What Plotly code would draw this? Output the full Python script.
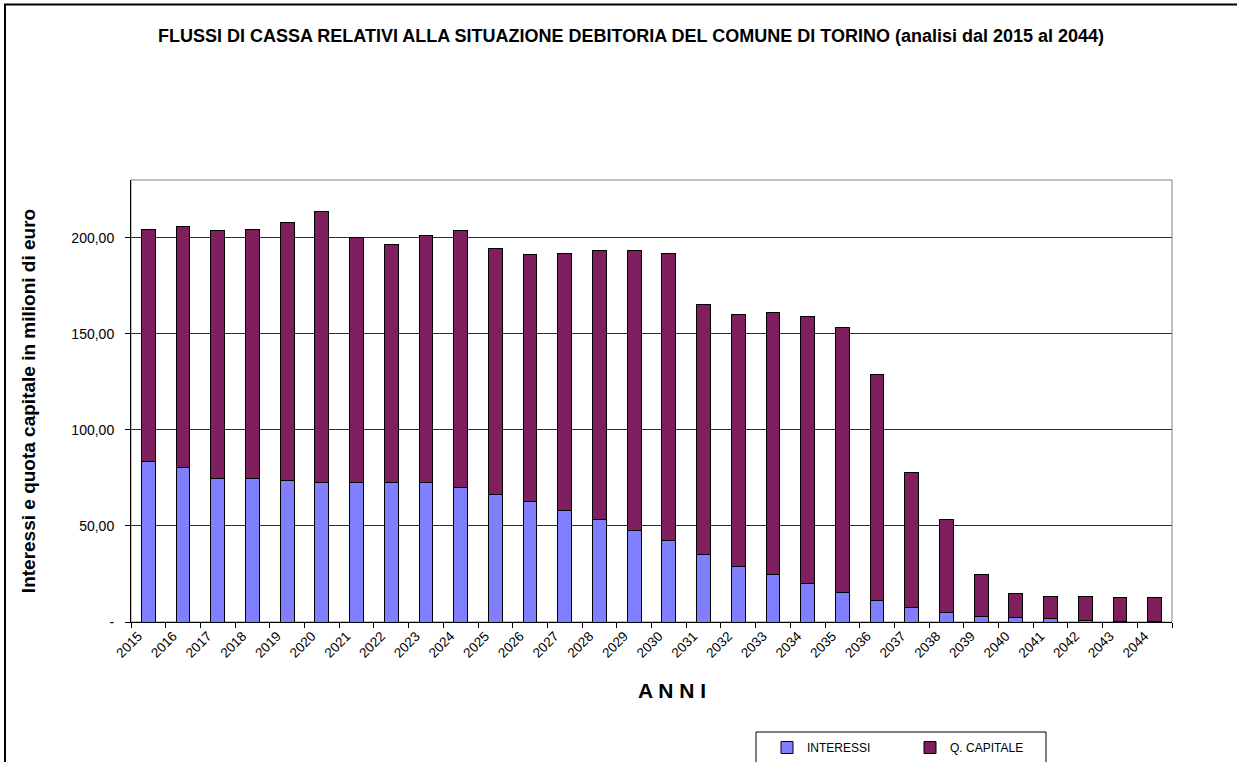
import plotly.graph_objects as go

anni = [str(y) for y in range(2015, 2045)]
interessi = [83.7, 80.4, 74.5, 74.5, 73.4, 72.6, 72.6, 72.6, 72.6, 70.2,
             66.5, 62.7, 57.8, 53.3, 47.6, 42.4, 35.3, 29.0, 24.5, 20.2,
             15.6, 11.1, 7.3, 4.7, 2.8, 2.3, 1.8, 0.9, 0.4, 0.3]
quota_capitale = [120.7, 125.2, 129.1, 129.9, 134.3, 140.8, 127.4, 123.6, 128.6, 133.4,
                  127.8, 128.4, 134.1, 139.9, 145.6, 149.5, 129.8, 130.9, 136.8, 138.7,
                  137.4, 117.8, 70.5, 48.4, 21.7, 12.6, 11.4, 12.3, 12.1, 12.2]
y_tickvals = [0, 50, 100, 150, 200]
y_ticktext = ["-", "50,00", "100,00", "150,00", "200,00"]

FONT = "Arial, Liberation Sans, sans-serif"
W, H = 1237, 762
L, R, T, B = 131, 1172, 180, 622
PW, PH = R - L, B - T

def px_x(x):
    return (x - L) / PW

def px_y(y):
    return (B - y) / PH

fig = go.Figure()
fig.add_trace(go.Bar(x=anni, y=interessi, name="INTERESSI",
                     marker=dict(color="#8080FF", line=dict(color="#000000", width=1))))
fig.add_trace(go.Bar(x=anni, y=quota_capitale, name="Q. CAPITALE",
                     marker=dict(color="#801F5E", line=dict(color="#000000", width=1))))

fig.update_layout(
    width=W, height=H,
    barmode="stack", bargap=0.6,
    plot_bgcolor="white", paper_bgcolor="white",
    margin=dict(l=L, r=W - R, t=T, b=H - B, autoexpand=False),
    font=dict(family=FONT, size=12, color="black"),
    title=dict(text="<b>FLUSSI DI CASSA RELATIVI ALLA SITUAZIONE DEBITORIA DEL COMUNE DI TORINO (analisi dal 2015 al 2044)</b>",
               x=631 / W, xanchor="center", y=1 - 36 / H, yanchor="middle",
               font=dict(family=FONT, size=18, color="black")),
    xaxis=dict(type="category", tickangle=-45, ticks="outside", tickson="boundaries",
               ticklen=5, tickcolor="black", showline=True, linecolor="black", linewidth=1,
               showgrid=False, tickfont=dict(size=13.5), ticklabelshift=-10),
    yaxis=dict(range=[0, 230], tickvals=y_tickvals, ticktext=y_ticktext,
               ticks="outside", ticklen=5, tickcolor="black",
               showline=True, linecolor="black", linewidth=1,
               showgrid=True, gridcolor="#303030", gridwidth=1, zeroline=False,
               tickfont=dict(size=14), ticklabelstandoff=8,
               title=dict(text="<b>Interessi e quota capitale in milioni di euro</b>",
                          font=dict(size=19), standoff=30)),
    showlegend=True,
    legend=dict(orientation="h", x=px_x(767), xanchor="left", y=px_y(733), yanchor="top",
                font=dict(size=12), entrywidth=98, entrywidthmode="pixels",
                bgcolor="rgba(0,0,0,0)", borderwidth=0, traceorder="normal"),
    annotations=[dict(text="<b>A N N I</b>", x=px_x(672), y=px_y(690), xref="paper", yref="paper",
                      showarrow=False, font=dict(size=21), xanchor="center", yanchor="middle")],
    shapes=[
        dict(type="rect", xref="paper", yref="paper", x0=0, x1=1, y0=0, y1=1,
             line=dict(color="#808080", width=1), layer="below"),
        dict(type="rect", xref="paper", yref="paper", x0=px_x(756), x1=px_x(1046),
             y0=px_y(790), y1=px_y(732), line=dict(color="black", width=1)),
        dict(type="rect", xref="paper", yref="paper", x0=px_x(5), x1=px_x(1260),
             y0=px_y(800), y1=px_y(4.5), line=dict(color="black", width=2)),
    ],
)

fig.write_html("out.html", config={"displayModeBar": False},
               post_script="document.body.style.margin='0px';")
